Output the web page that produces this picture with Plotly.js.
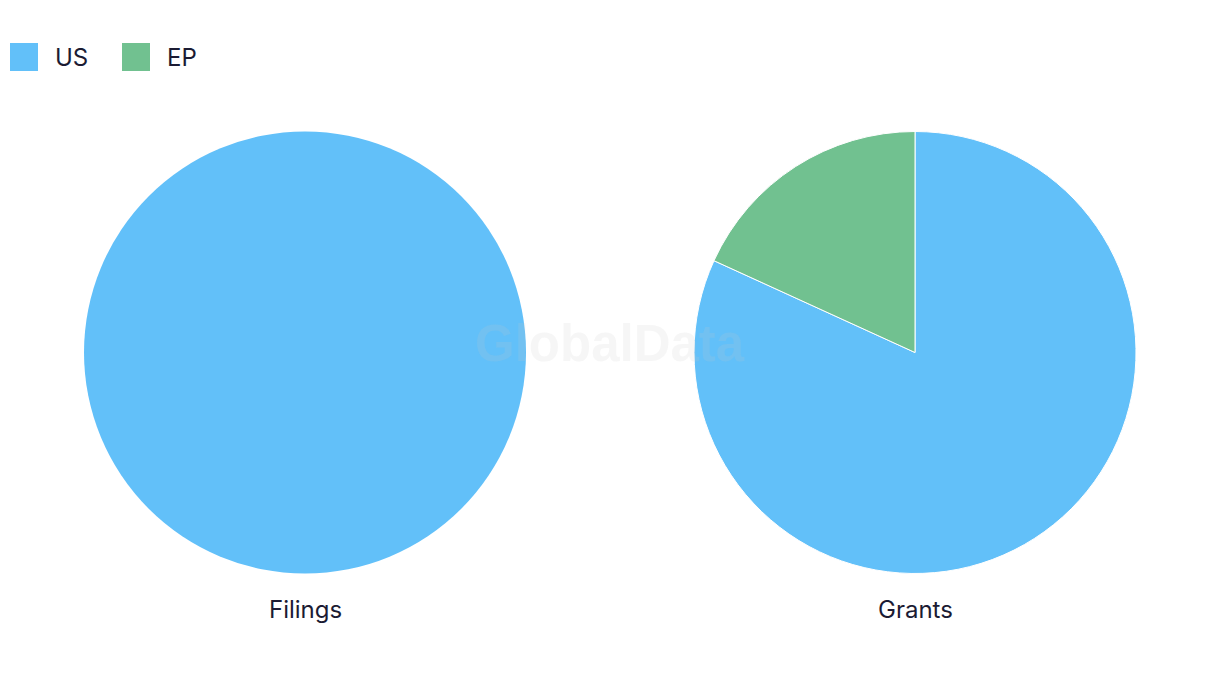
<!DOCTYPE html>
<html>
<head>
<meta charset="utf-8">
<script src="https://cdn.plot.ly/plotly-3.0.1.min.js"></script>
<style>html,body{margin:0;padding:0;background:#fff;}#chart{width:1220px;height:686px;}</style>
</head>
<body>
<div id="chart"></div>
<script>
// Data
var seriesLabels = ["US", "EP"];
var seriesColors = ["#62c0f9", "#71c190"];
var pieTitles = ["Filings", "Grants"];
var filingsValues = [1, 0];
var grantsValues = [9, 2];

var textColor = "#1b1b33";
var fontFam = "Inter, 'Noto Sans', Roboto, sans-serif";

var W = 1220, H = 686;
function dx(px){return px / W;}
function dy(px){return 1 - px / H;}

var domains = [
  {x: [dx(84), dx(526)], y: [dy(574), dy(131)]},
  {x: [dx(694), dx(1136)], y: [dy(574), dy(131)]}
];
var allValues = [filingsValues, grantsValues];
var lineWidths = [0, 1];

var traces = allValues.map(function(vals, i){
  return {
    type: "pie",
    labels: seriesLabels,
    values: vals,
    sort: false,
    direction: "clockwise",
    rotation: 0,
    marker: {colors: seriesColors, line: {color: "#ffffff", width: lineWidths[i]}},
    textinfo: "none",
    hoverinfo: "label+value+percent",
    domain: domains[i],
    showlegend: false,
    automargin: false
  };
});

var annotations = [];
var shapes = [];
// Pie titles
pieTitles.forEach(function(t, i){
  annotations.push({
    text: t, xref: "paper", yref: "paper",
    x: (domains[i].x[0] + domains[i].x[1]) / 2, y: dy(609),
    xanchor: "center", yanchor: "middle", showarrow: false,
    font: {family: fontFam, size: 24, color: textColor}
  });
});
// Custom legend
var legendX = [10, 122];
seriesLabels.forEach(function(lbl, i){
  shapes.push({
    type: "rect", xref: "paper", yref: "paper",
    x0: dx(legendX[i]), x1: dx(legendX[i] + 28),
    y0: dy(71), y1: dy(43),
    fillcolor: seriesColors[i], line: {width: 0}
  });
  annotations.push({
    text: lbl, xref: "paper", yref: "paper",
    x: dx(legendX[i] + 43), y: dy(57),
    xanchor: "left", yanchor: "middle", showarrow: false,
    font: {family: fontFam, size: 24, color: textColor}
  });
});
// Watermark
annotations.push({
  text: "<b>GlobalData</b>", xref: "paper", yref: "paper",
  x: dx(610), y: dy(343), xanchor: "center", yanchor: "middle",
  showarrow: false,
  font: {family: "'Liberation Sans', Arial, sans-serif", size: 51, color: "rgba(200,200,200,0.16)"}
});

var layout = {
  width: W, height: H,
  margin: {l: 0, r: 0, t: 0, b: 0},
  paper_bgcolor: "#ffffff",
  plot_bgcolor: "#ffffff",
  showlegend: false,
  annotations: annotations,
  shapes: shapes
};

Plotly.newPlot("chart", traces, layout, {displayModeBar: false, staticPlot: true});
</script>
</body>
</html>
